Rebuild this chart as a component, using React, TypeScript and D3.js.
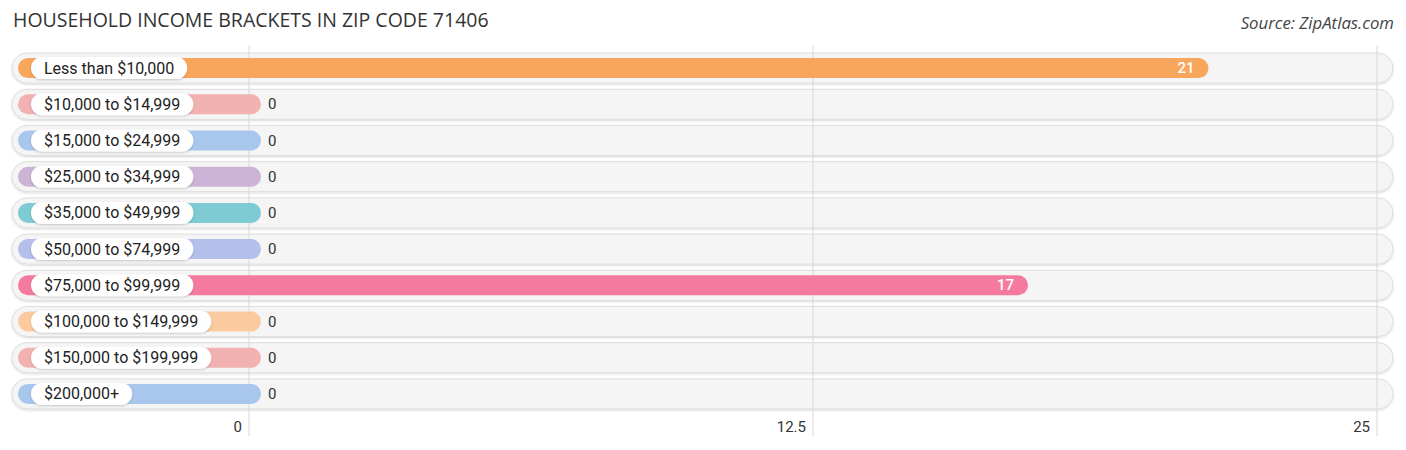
import React from "react";
import * as d3 from "d3";

const categories = [
  "Less than $10,000",
  "$10,000 to $14,999",
  "$15,000 to $24,999",
  "$25,000 to $34,999",
  "$35,000 to $49,999",
  "$50,000 to $74,999",
  "$75,000 to $99,999",
  "$100,000 to $149,999",
  "$150,000 to $199,999",
  "$200,000+",
];
const values = [21, 0, 0, 0, 0, 0, 17, 0, 0, 0];
const colors = [
  "#F8A65B",
  "#F2B2B2",
  "#A9C7EC",
  "#CDB3D6",
  "#7FCBD3",
  "#B5BFEC",
  "#F47B9F",
  "#FBCB9F",
  "#F2B2B2",
  "#A9C7EC",
];
const tickValues = [0, 12.5, 25];
const tickLabels = ["0", "12.5", "25"];

const W = 1406;
const H = 450;
const font = "Roboto, 'Open Sans', sans-serif";
const labelSize = 16;

let ctx: CanvasRenderingContext2D | null = null;
function measure(s: string): number {
  if (!ctx) {
    const c = document.createElement("canvas");
    ctx = c.getContext("2d");
  }
  if (!ctx) return s.length * 8.5;
  ctx.font = `${labelSize}px Roboto`;
  return ctx.measureText(s).width;
}

export default function App() {
  const x = d3.scaleLinear().domain([0, 25]).range([249, 1377]);
  const y = d3
    .scaleBand<string>()
    .domain(categories)
    .range([50, 412])
    .paddingInner(0)
    .paddingOuter(0);
  const rowH = y.bandwidth();
  const trackH = 30;
  const barH = 20;
  const barStart = 18;
  const capExt = 12;

  return (
    <svg
      width={W}
      height={H}
      style={{ position: "absolute", left: 0, top: 0, display: "block", background: "#fff" }}
    >
      <defs>
        <filter id="sh" x="-5%" y="-30%" width="110%" height="160%">
          <feDropShadow dx="0" dy="1" stdDeviation="1.2" floodColor="#000" floodOpacity="0.16" />
        </filter>
        <filter id="sh2" x="-5%" y="-30%" width="110%" height="160%">
          <feDropShadow dx="0" dy="1" stdDeviation="1" floodColor="#000" floodOpacity="0.2" />
        </filter>
      </defs>
      <text
        x={13}
        y={27}
        fontFamily="'Open Sans', sans-serif"
        fontSize={19.5}
        fill="#333"
      >
        HOUSEHOLD INCOME BRACKETS IN ZIP CODE 71406
      </text>
      <text
        x={1394}
        y={29}
        textAnchor="end"
        fontFamily="'Open Sans', sans-serif"
        fontStyle="italic"
        fontSize={16.8}
        fill="#444"
      >
        Source: ZipAtlas.com
      </text>

      {categories.map((c) => {
        const cy = (y(c) as number) + rowH / 2;
        return (
          <rect
            key={"t" + c}
            x={12}
            y={cy - trackH / 2}
            width={1393 - 12}
            height={trackH}
            rx={trackH / 2}
            fill="#f5f5f5"
            stroke="#dedede"
            strokeWidth={1}
            filter="url(#sh)"
          />
        );
      })}

      {tickValues.map((t, i) => (
        <g key={"g" + t}>
          <line x1={x(t)} x2={x(t)} y1={45} y2={436} stroke="#d8d8d8" strokeWidth={1} />
          <text
            x={x(t) - 7}
            y={432}
            textAnchor="end"
            fontFamily={font}
            fontSize={15}
            fill="#333"
          >
            {tickLabels[i]}
          </text>
        </g>
      ))}

      {categories.map((c, i) => {
        const cy = (y(c) as number) + rowH / 2;
        const v = values[i];
        const end = x(v) + capExt;
        const labelW = measure(c) + 26;
        const big = v > 3;
        return (
          <g key={"b" + c}>
            <rect
              x={barStart}
              y={cy - barH / 2}
              width={end - barStart}
              height={barH}
              rx={barH / 2}
              fill={colors[i]}
            />
            <rect
              x={31}
              y={cy - 11}
              width={labelW}
              height={22}
              rx={11}
              fill="#fff"
              filter="url(#sh2)"
            />
            <text
              x={44}
              y={cy + 5.5}
              fontFamily={font}
              fontSize={labelSize}
              fill="#222"
            >
              {c}
            </text>
            {big ? (
              <text
                x={end - 14}
                y={cy + 5}
                textAnchor="end"
                fontFamily={font}
                fontSize={15}
                fill="#fff"
                fontWeight={500}
              >
                {v}
              </text>
            ) : (
              <text
                x={end + 7}
                y={cy + 5}
                fontFamily={font}
                fontSize={15}
                fill="#333"
              >
                {v}
              </text>
            )}
          </g>
        );
      })}
    </svg>
  );
}
